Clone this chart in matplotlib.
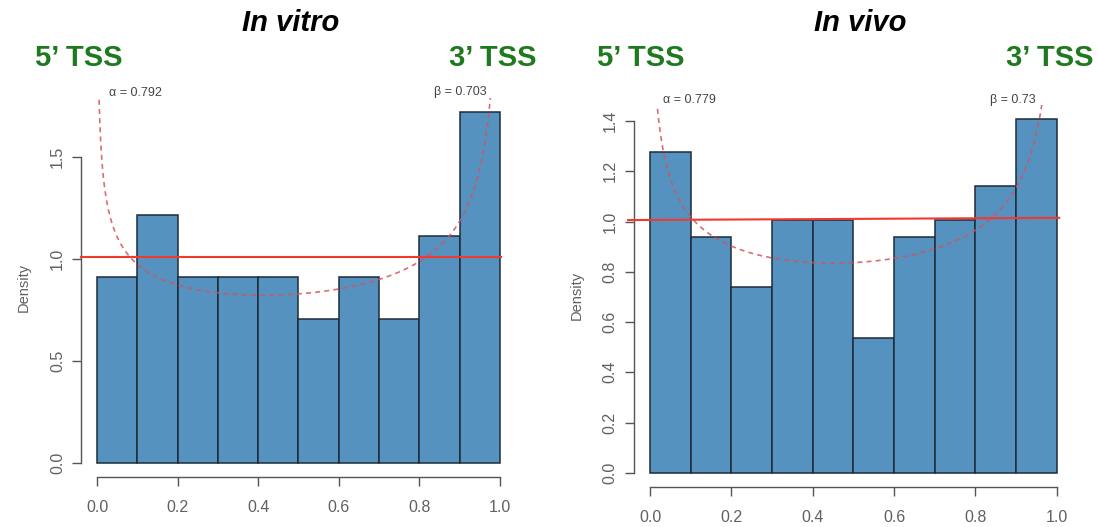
import math
import numpy as np
import matplotlib
matplotlib.use('Agg')
import matplotlib.pyplot as plt

plt.rcParams['font.family'] = ['Liberation Sans', 'DejaVu Sans']

# Histogram counts per 0.1-wide bin along the transcript (0 = 5' end, 1 = 3' end)
bin_edges = [0.0, 0.1, 0.2, 0.3, 0.4, 0.5, 0.6, 0.7, 0.8, 0.9, 1.0]
vitro_counts = [9, 12, 9, 9, 9, 7, 9, 7, 11, 17]
vivo_counts = [19, 14, 11, 15, 15, 8, 14, 15, 17, 21]

# Beta fit parameters
vitro_alpha, vitro_beta = 0.792, 0.703
vivo_alpha, vivo_beta = 0.779, 0.73

# Uniform reference line (start/end x and density)
vitro_unif_x = [-0.041, 1.003]
vitro_unif_y = [1.008, 1.008]
vivo_unif_x = [-0.054, 1.006]
vivo_unif_y = [1.006, 1.015]

vitro_yticks = [0.0, 0.5, 1.0, 1.5]
vivo_yticks = [0.0, 0.2, 0.4, 0.6, 0.8, 1.0, 1.2, 1.4]
xticks = [0.0, 0.2, 0.4, 0.6, 0.8, 1.0]

W, H = 1099, 527
BAR = '#5592c0'
EDGE = '#1f2b3a'
AXIS = '#555555'
LABEL = '#606060'
GREEN = '#1f7a1f'


def beta_pdf(x, a, b):
    B = math.gamma(a) * math.gamma(b) / math.gamma(a + b)
    return x ** (a - 1) * (1 - x) ** (b - 1) / B


def draw_panel(ax, counts, a, b, unif_x, unif_y, yticks):
    counts = np.array(counts, dtype=float)
    width = bin_edges[1] - bin_edges[0]
    dens = counts / (counts.sum() * width)
    ax.bar(bin_edges[:-1], dens, width=width, align='edge',
           color=BAR, edgecolor=EDGE, linewidth=1.1, zorder=2)

    # R-style extended limits
    ymax = dens.max()
    ax.set_xlim(-0.04, 1.04)
    ax.set_ylim(-0.04 * ymax, 1.04 * ymax)

    xs = np.linspace(0.0002, 0.9998, 3000)
    ax.plot(xs, beta_pdf(xs, a, b), color='#d2545c', lw=1.2,
            ls=(0, (3, 2.5)), alpha=0.85, zorder=3)
    ax.plot(unif_x, unif_y, color='#f03a30', lw=1.5, zorder=4, clip_on=False)

    for side in ['top', 'right']:
        ax.spines[side].set_visible(False)
    for side in ['left', 'bottom']:
        ax.spines[side].set_color(AXIS)
        ax.spines[side].set_linewidth(1.0)
    ax.spines['left'].set_bounds(yticks[0], yticks[-1])
    ax.spines['bottom'].set_bounds(0, 1)
    ax.set_yticks(yticks)
    ax.set_yticklabels([f'{t:.1f}' for t in yticks])
    ax.set_xticks(xticks)
    ax.set_xticklabels([f'{t:.1f}' for t in xticks])
    ax.tick_params(axis='both', colors=AXIS, labelcolor=LABEL,
                   length=6.5, width=1.0, labelsize=11.5)
    ax.tick_params(axis='x', pad=10)
    ax.tick_params(axis='y', pad=5, labelrotation=90)
    for lab in ax.get_yticklabels():
        lab.set_va('center')
    ax.set_ylabel('Density', fontsize=10.5, color=LABEL, labelpad=14)


fig = plt.figure(figsize=(W / 100, H / 100), dpi=100)

ax1 = fig.add_axes([81.1 / W, 1 - 477.3 / H, 434.8 / W, 379.1 / H])
ax2 = fig.add_axes([633.8 / W, 1 - 486.9 / H, 439.2 / W, 382.3 / H])

draw_panel(ax1, vitro_counts, vitro_alpha, vitro_beta,
           vitro_unif_x, vitro_unif_y, vitro_yticks)
draw_panel(ax2, vivo_counts, vivo_alpha, vivo_beta,
           vivo_unif_x, vivo_unif_y, vivo_yticks)


def ftext(x, y, s, **kw):
    fig.text(x / W, 1 - y / H, s, **kw)


ftext(291, 23, 'In vitro', fontsize=21, fontweight='bold', fontstyle='italic',
      ha='center', va='center')
ftext(860, 23, 'In vivo', fontsize=21, fontweight='bold', fontstyle='italic',
      ha='center', va='center')

for x in [79, 641]:
    ftext(x, 58, '5\u2019 TSS', fontsize=21, fontweight='bold', color=GREEN,
          ha='center', va='center')
for x in [493, 1050]:
    ftext(x, 58, '3\u2019 TSS', fontsize=21, fontweight='bold', color=GREEN,
          ha='center', va='center')

ftext(109, 93, f'\u03b1 = {vitro_alpha}', fontsize=9, color='#444444', ha='left', va='center')
ftext(434, 92, f'\u03b2 = {vitro_beta}', fontsize=9, color='#444444', ha='left', va='center')
ftext(663, 100, f'\u03b1 = {vivo_alpha}', fontsize=9, color='#444444', ha='left', va='center')
ftext(990, 100, f'\u03b2 = {vivo_beta}', fontsize=9, color='#444444', ha='left', va='center')

fig.savefig('out.png', dpi=100)
